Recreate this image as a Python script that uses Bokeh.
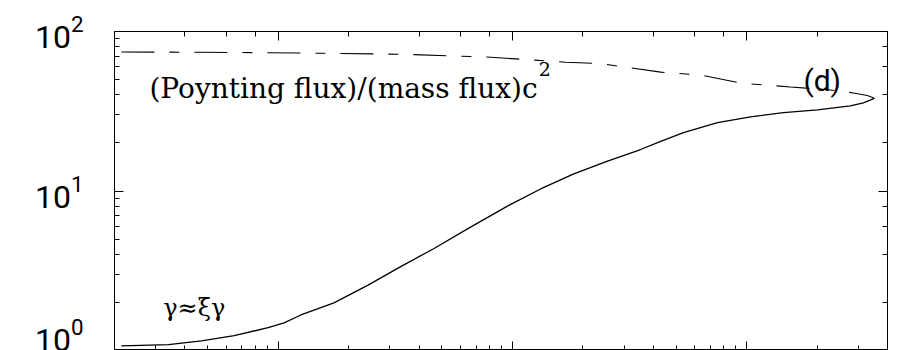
from bokeh.plotting import figure
from bokeh.models import LogAxis
from bokeh.core.properties import value
from bokeh.embed import file_html
from bokeh.resources import INLINE

# Poynting-to-mass flux ratio (dashed) along the flow
sigma_x = [2.14, 4.70, 12.5, 33.5, 81, 169, 238, 430, 637, 942, 1541, 2282, 2858, 3281, 3515]
sigma_y = [74.4, 74.1, 73.3, 72.0, 69.0, 64.2, 62.9, 55.6, 53.3, 47.5, 44.9, 43.0, 41.2, 39.7, 38.1]

# Lorentz factor (solid) along the flow
gamma_x = [2.14, 3.40, 4.70, 6.49, 9.06, 10.6, 12.5, 17.3, 24.2, 33.5, 46.3, 64.6, 95.7,
           132, 183, 255, 353, 430, 538, 752, 1040, 1438, 2009, 2775, 3155, 3515]
gamma_y = [1.07, 1.09, 1.15, 1.24, 1.39, 1.49, 1.67, 1.99, 2.57, 3.37, 4.36, 5.81, 8.07,
           10.3, 12.8, 15.4, 18.2, 20.5, 23.2, 26.8, 29.2, 31.0, 32.3, 34.2, 35.7, 38.1]

SERIF = "DejaVu Serif"
SANS = "Roboto"

p = figure(width=899, height=350, x_axis_type="log", y_axis_type="log",
           x_range=(2, 4000), y_range=(1, 100),
           output_backend="svg", toolbar_location=None,
           min_border_left=114, min_border_right=12, min_border_top=31, min_border_bottom=0)
p.background_fill_color = "white"
p.border_fill_color = "white"
p.outline_line_color = "black"
p.outline_line_width = 1
p.xgrid.visible = False
p.ygrid.visible = False


def style_ticks(ax):
    ax.axis_line_color = "black"
    ax.major_tick_line_color = "black"
    ax.minor_tick_line_color = "black"
    ax.major_tick_in = 9
    ax.major_tick_out = 0
    ax.minor_tick_in = 5
    ax.minor_tick_out = 0


def ticks_only(ax):
    style_ticks(ax)
    ax.major_label_text_font_size = "1px"
    ax.major_label_text_alpha = 0
    ax.major_label_standoff = 0


# left axis with labels
yax = p.yaxis[0]
style_ticks(yax)
yax.major_label_text_font = SANS
yax.major_label_text_font_size = "32px"
yax.major_label_text_color = "black"
yax.major_label_standoff = 31

# bottom axis: ticks only
ticks_only(p.xaxis[0])

# ticks on top and right frame edges
top = LogAxis()
ticks_only(top)
p.add_layout(top, "above")

right = LogAxis()
ticks_only(right)
p.add_layout(right, "right")

p.line(sigma_x, sigma_y, line_color="black", line_width=1.1, line_dash="33 15 10 15")
p.line(gamma_x, gamma_y, line_color="black", line_width=1.3)

# annotations inside the frame
p.text(x=[2.82], y=[44.0], text=["(Poynting flux)/(mass flux)c"],
       text_font=value(SERIF), text_font_size="28px",
       text_color="black", text_baseline="middle", text_align="left")
p.text(x=[129.7], y=[58.2], text=["2"],
       text_font=value(SERIF), text_font_size="19px",
       text_color="black", text_baseline="middle", text_align="left")
p.text(x=[1750], y=[49.6], text=["(d)"],
       text_font=value(SANS), text_font_size="30px",
       text_color="black", text_baseline="middle", text_align="left")
p.text(x=[3.23], y=[1.85], text=["γ≈ξγ"],
       text_font=value(SERIF), text_font_size="24px",
       text_color="black", text_baseline="middle", text_align="left")

open("out.html", "w").write(file_html(p, INLINE))
